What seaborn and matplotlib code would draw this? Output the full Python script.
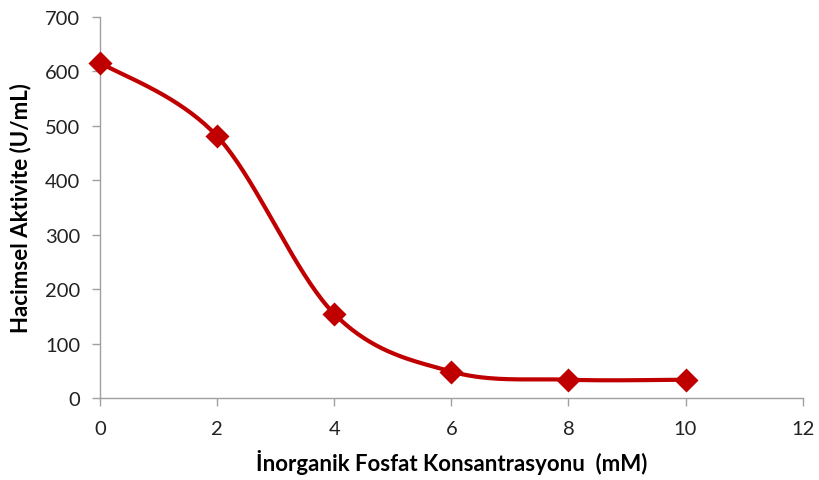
import numpy as np
import pandas as pd
import matplotlib
matplotlib.use("Agg")
import matplotlib.pyplot as plt
import seaborn as sns

conc = [0, 2, 4, 6, 8, 10]
activity = [616, 481, 155, 49, 34, 34]
x_ticks = [0, 2, 4, 6, 8, 10, 12]
y_ticks = [0, 100, 200, 300, 400, 500, 600, 700]
x_label = "İnorganik Fosfat Konsantrasyonu  (mM)"
y_label = "Hacimsel Aktivite (U/mL)"

sns.set_theme(style="ticks")
plt.rcParams['font.family'] = ['Lato', 'DejaVu Sans']

# Excel-style smoothed line (Catmull-Rom Bezier through the data points)
def smooth(xs, ys, n=40):
    P = np.column_stack([xs, ys]).astype(float)
    out = []
    for i in range(len(P) - 1):
        p0 = P[i - 1] if i > 0 else P[i]
        p1 = P[i]
        p2 = P[i + 1]
        p3 = P[i + 2] if i + 2 < len(P) else P[i + 1]
        c1 = p1 + (p2 - p0) / 6.0
        c2 = p2 - (p3 - p1) / 6.0
        t = np.linspace(0, 1, n)[:, None]
        seg = ((1 - t) ** 3) * p1 + 3 * ((1 - t) ** 2) * t * c1 + 3 * (1 - t) * t ** 2 * c2 + t ** 3 * p2
        out.append(seg if i == 0 else seg[1:])
    S = np.vstack(out)
    return S[:, 0], S[:, 1]

sx, sy = smooth(conc, activity)
curve = pd.DataFrame({"x": sx, "y": sy})
pts = pd.DataFrame({"x": conc, "y": activity})

fig = plt.figure(figsize=(8.19, 4.81), dpi=100)
ax = fig.add_axes([0.122, 0.170, 0.858, 0.793])
color = "#C00000"
sns.lineplot(data=curve, x="x", y="y", ax=ax, color=color, linewidth=3, sort=False, estimator=None)
sns.scatterplot(data=pts, x="x", y="y", ax=ax, color=color, marker="D", s=150, edgecolor=color, linewidth=0, zorder=5, clip_on=False)

ax.set_xlim(0, 12)
ax.set_ylim(0, 700)
ax.set_xticks(x_ticks)
ax.set_yticks(y_ticks)
ax.tick_params(axis="both", labelsize=14.5, colors="#A0A0A0", labelcolor="#222222", length=6, width=1)
ax.tick_params(axis="x", pad=10)
ax.tick_params(axis="y", pad=8)
for s in ["top", "right"]:
    ax.spines[s].set_visible(False)
for s in ["left", "bottom"]:
    ax.spines[s].set_color("#A0A0A0")
    ax.spines[s].set_linewidth(1)
ax.set_xlabel(x_label, fontsize=16, fontweight="bold", color="#000000", labelpad=8)
ax.set_ylabel(y_label, fontsize=16, fontweight="bold", color="#000000", labelpad=10)

fig.savefig("out.png", dpi=100)
